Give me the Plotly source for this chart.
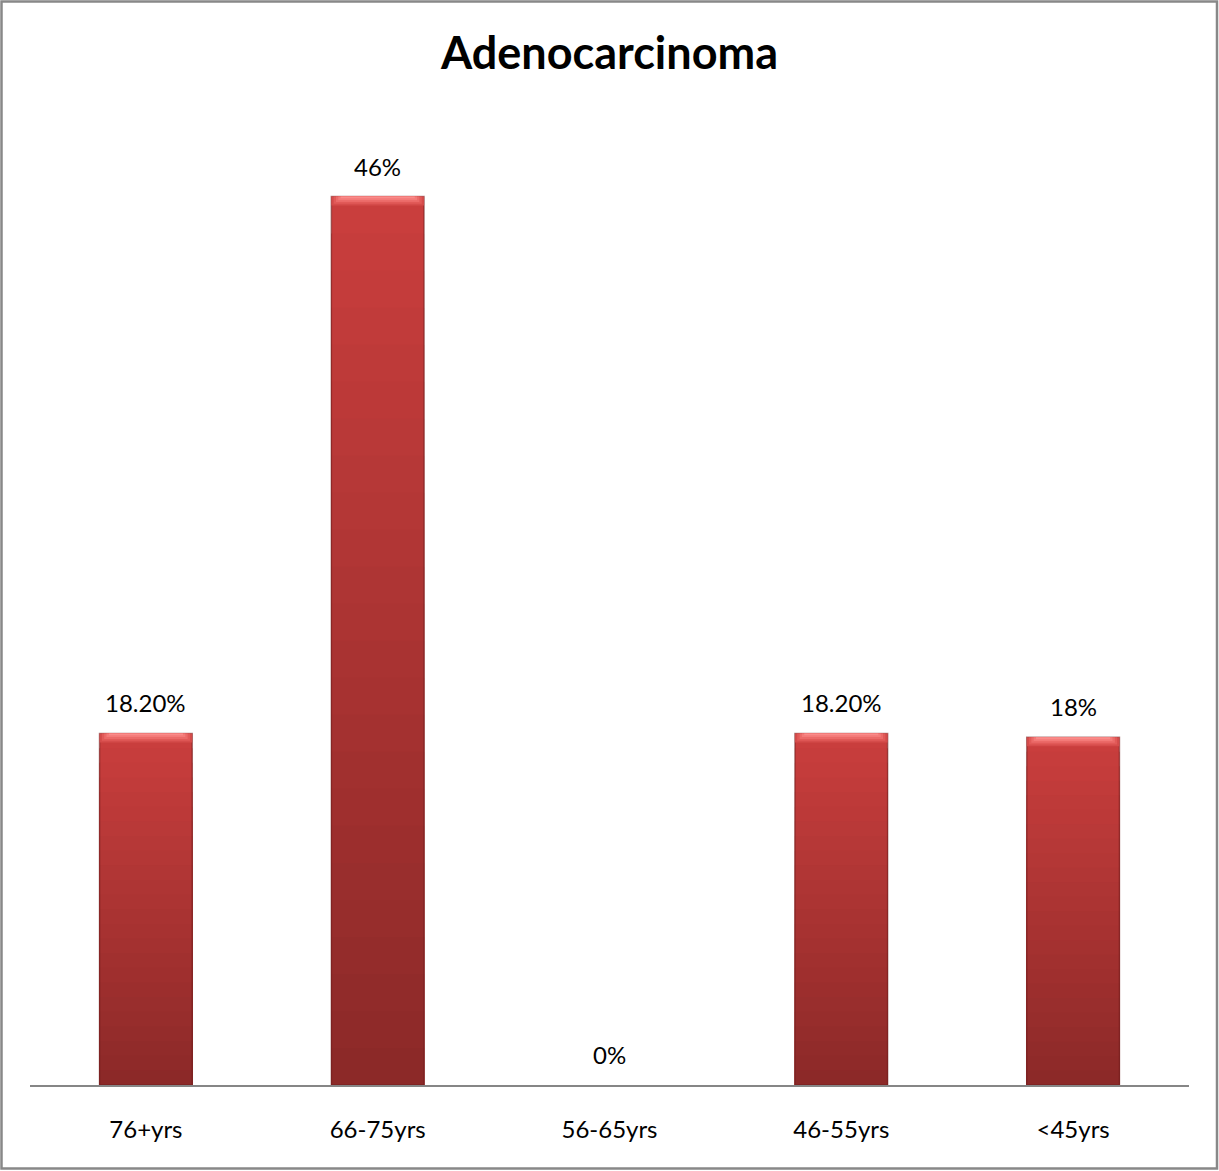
import plotly.graph_objects as go

# Age-group distribution of adenocarcinoma cases (percent)
categories = ["76+yrs", "66-75yrs", "56-65yrs", "46-55yrs", "<45yrs"]
values = [18.2, 46, 0, 18.2, 18]
chart_title = "Adenocarcinoma"

W, H = 1219, 1171
M_L, M_R, M_T, M_B = 30, 30, 100, 86
Y_MAX = 51.0
BAR_W = 0.4

FONT = "Lato"
TOP_RGB = (201, 62, 61)
BOT_RGB = (140, 41, 40)


def pct_label(v):
    return f"{v:.2f}%" if v != int(v) else f"{int(v)}%"


def mix(a, b, t):
    return "rgb(%d,%d,%d)" % tuple(round(a[i] + (b[i] - a[i]) * t) for i in range(3))


fig = go.Figure()

# vertical gradient: stacked overlays, each shorter and darker than the last
steps = 24
for i in range(steps):
    frac = 1 - i / steps
    fig.add_trace(go.Bar(
        x=categories,
        y=[v * frac for v in values],
        width=BAR_W,
        marker=dict(color=mix(TOP_RGB, BOT_RGB, i / (steps - 1)),
                    line=dict(width=0)),
        hoverinfo="skip",
        showlegend=False,
    ))

# bar outlines with darker edges (skipped for empty groups)
fig.add_trace(go.Bar(
    x=categories, y=[v if v > 0 else None for v in values], width=BAR_W,
    marker=dict(color="rgba(0,0,0,0)", line=dict(color="rgba(110,30,30,0.55)", width=1.5)),
    hoverinfo="skip", showlegend=False,
))

# light bevel along the top of each bar, fading down into the bar colour
units_per_px = Y_MAX / (H - M_T - M_B)
bevel_px = 9
bevel_cols = ["rgba(214,78,76,0.9)", "rgba(226,92,90,0.9)", "rgba(236,108,106,0.9)",
              "rgba(244,124,122,0.9)", "rgba(250,140,138,0.95)"]
for j, col in enumerate(bevel_cols):
    depth = bevel_px * (1 - j / len(bevel_cols)) * units_per_px
    fig.add_trace(go.Bar(
        x=categories,
        y=[depth if v > 0 else None for v in values],
        base=[v - depth if v > 0 else None for v in values],
        width=BAR_W * (1 - 0.05 * j) if j else BAR_W,
        marker=dict(color=col, line=dict(width=0)),
        hoverinfo="skip", showlegend=False,
    ))

# value labels above the bars
for c, v in zip(categories, values):
    fig.add_annotation(
        x=c, y=v, text=pct_label(v), showarrow=False,
        yanchor="bottom", yshift=14,
        font=dict(family=FONT, size=24, color="#000000"),
    )

# outer frame of the chart
pw = W - M_L - M_R
ph = H - M_T - M_B
fig.add_shape(
    type="rect", xref="paper", yref="paper",
    x0=(1.5 - M_L) / pw, x1=(W - 2 - M_L) / pw,
    y0=(H - M_B - (H - 2.5)) / ph, y1=(H - M_B - 1.5) / ph,
    line=dict(color="#888888", width=2.5), fillcolor="rgba(0,0,0,0)",
)

fig.update_layout(
    width=W, height=H,
    margin=dict(l=M_L, r=M_R, t=M_T, b=M_B),
    barmode="overlay",
    paper_bgcolor="white", plot_bgcolor="white",
    title=dict(text=f"<b>{chart_title}</b>", x=0.5, xanchor="center",
               y=1 - 53 / H, yanchor="middle",
               font=dict(family=FONT, size=45, color="#000000")),
    xaxis=dict(showline=True, linecolor="#868686", linewidth=1.5,
               showgrid=False, ticks="", ticklabelstandoff=22,
               tickfont=dict(family=FONT, size=24, color="#000000")),
    yaxis=dict(range=[0, Y_MAX], visible=False, showgrid=False, zeroline=False),
)

fig.write_html("out.html")
